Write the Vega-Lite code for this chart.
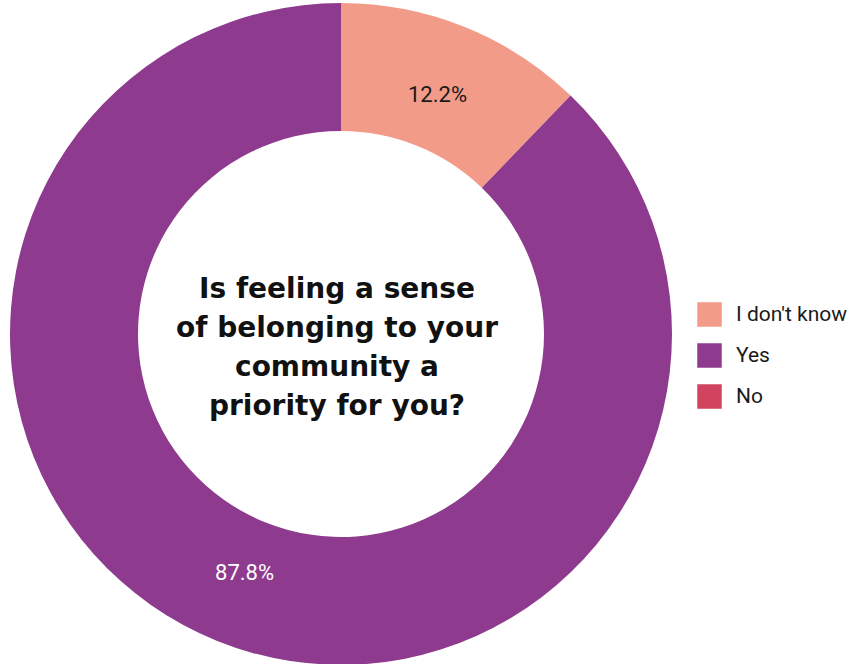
{
  "$schema": "https://vega.github.io/schema/vega-lite/v6.json",
  "width": 682,
  "height": 668,
  "autosize": "none",
  "padding": {"left": 0, "top": 0, "right": 172, "bottom": 0},
  "background": "white",
  "config": {"font": "Roboto", "view": {"stroke": null}},
  "layer": [
    {
      "data": {"values": [
        {"answer": "I don't know", "value": 0.122, "rank": 1},
        {"answer": "Yes", "value": 0.878, "rank": 2},
        {"answer": "No", "value": 0.0, "rank": 3}
      ]},
      "layer": [
        {
          "mark": {"type": "arc", "innerRadius": 203, "outerRadius": 331},
          "encoding": {
            "theta": {"field": "value", "type": "quantitative", "stack": true},
            "order": {"field": "rank", "type": "quantitative"},
            "color": {
              "field": "answer",
              "type": "nominal",
              "scale": {"domain": ["I don't know", "Yes", "No"], "range": ["#F39B89", "#8E3A8E", "#D1435E"]},
              "legend": {
                "title": null,
                "orient": "none",
                "legendX": 697,
                "legendY": 302,
                "symbolType": "square",
                "symbolSize": 600,
                "symbolStrokeWidth": 0,
                "labelFontSize": 21,
                "labelColor": "#1a1a1a",
                "labelOffset": 14,
                "rowPadding": 16,
                "labelFont": "Roboto",
                "labelLimit": 200
              }
            }
          }
        },
        {
          "transform": [{"filter": "datum.value > 0"}],
          "mark": {"type": "text", "radius": 258, "fontSize": 22, "font": "Roboto"},
          "encoding": {
            "theta": {"field": "value", "type": "quantitative", "stack": true},
            "order": {"field": "rank", "type": "quantitative"},
            "text": {"field": "value", "type": "quantitative", "format": ".1%"},
            "color": {"condition": {"test": "datum.answer === 'Yes'", "value": "white"}, "value": "#1a1a1a"}
          }
        }
      ]
    },
    {
      "data": {"values": [{"q": ["Is feeling a sense", "of belonging to your", "community a", "priority for you?"]}]},
      "mark": {"type": "text", "fontWeight": "bold", "fontSize": 28, "lineHeight": 39, "align": "center", "baseline": "middle", "dy": -44, "dx": -4, "color": "#111111", "font": "DejaVu Sans"},
      "encoding": {"text": {"field": "q"}}
    }
  ]
}
